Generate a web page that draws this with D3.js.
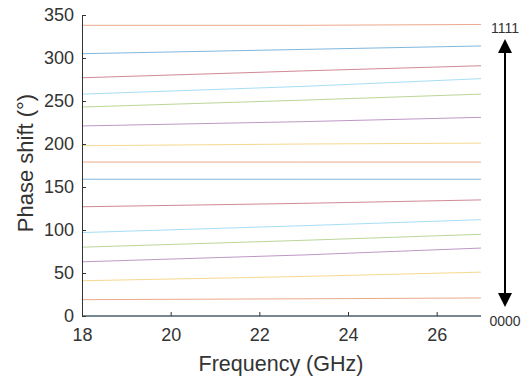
<!DOCTYPE html>
<html>
<head>
<meta charset="utf-8">
<script src="https://cdn.jsdelivr.net/npm/d3@7"></script>
<style>
  body { margin: 0; background: #fff; }
  svg { display: block; font-family: Arial, "Liberation Sans", sans-serif; }
</style>
</head>
<body>
<div id="chart"></div>
<script>
// Frequency points (GHz)
const freqs = [18, 23, 27];

// Phase shift (deg) for each of the 16 states, at the frequencies above
const states = [
  [0, 0, 0],
  [19, 20, 21],
  [41, 46, 51],
  [63, 71, 79],
  [80, 88, 95],
  [97, 105, 112],
  [127, 131, 135],
  [159, 159, 159],
  [179, 179, 179],
  [198, 200, 201],
  [221, 226, 231],
  [243, 251, 258],
  [258, 267, 276],
  [277, 285, 291],
  [305, 310, 314],
  [338, 338, 339]
];

const xTicks = [18, 20, 22, 24, 26];
const yTicks = [0, 50, 100, 150, 200, 250, 300, 350];
const stateLabels = ["1111", "0000"];

// MATLAB default colour order
const colors = ["#0072BD", "#D95319", "#EDB120", "#7E2F8E", "#77AC30", "#4DBEEE", "#A2142F"];

const width = 531;
const height = 380;
const margin = { top: 15, right: 50, bottom: 64, left: 82 };

const svg = d3.select("#chart").append("svg")
  .attr("width", width)
  .attr("height", height);

const x = d3.scaleLinear()
  .domain([18, 27])
  .range([margin.left, width - margin.right]);

const y = d3.scaleLinear()
  .domain([0, 350])
  .range([height - margin.bottom, margin.top]);

const line = d3.line()
  .x((d, i) => x(freqs[i]))
  .y((d) => y(d));

svg.append("g")
  .selectAll("path")
  .data(states)
  .join("path")
  .attr("d", line)
  .attr("fill", "none")
  .attr("stroke", (d, i) => colors[i % colors.length])
  .attr("stroke-opacity", 0.5)
  .attr("stroke-width", 1);

// axes (MATLAB style: ticks pointing inward)
const axisColor = "#333";

svg.append("g")
  .attr("transform", `translate(0,${y(0)})`)
  .call(d3.axisBottom(x).tickValues(xTicks).tickSize(-4).tickPadding(12).tickSizeOuter(0))
  .call((g) => g.select(".domain").attr("stroke", axisColor).attr("d", `M${x(18)},0H${x(27)}`))
  .call((g) => g.selectAll(".tick line").attr("stroke", axisColor))
  .call((g) => g.selectAll("text").attr("fill", axisColor).style("font-size", "18px").attr("dy", "0.71em"));

svg.append("g")
  .attr("transform", `translate(${margin.left},0)`)
  .call(d3.axisLeft(y).tickValues(yTicks).tickSize(-4).tickPadding(8).tickSizeOuter(0))
  .call((g) => g.select(".domain").attr("stroke", axisColor))
  .call((g) => g.selectAll(".tick line").attr("stroke", axisColor))
  .call((g) => g.selectAll("text").attr("fill", axisColor).style("font-size", "18px"));

svg.append("text")
  .attr("x", 281)
  .attr("y", 371)
  .attr("text-anchor", "middle")
  .attr("fill", axisColor)
  .style("font-size", "21.5px")
  .text("Frequency (GHz)");

svg.append("text")
  .attr("transform", `translate(33,163) rotate(-90)`)
  .attr("text-anchor", "middle")
  .attr("fill", axisColor)
  .style("font-size", "22px")
  .text("Phase shift (°)");

// state arrow on the right
const ax = 505;
const defs = svg.append("defs");
defs.append("marker")
  .attr("id", "head")
  .attr("viewBox", "0 0 10 10")
  .attr("refX", 5)
  .attr("refY", 5)
  .attr("markerWidth", 7)
  .attr("markerHeight", 7)
  .attr("markerUnits", "strokeWidth")
  .attr("orient", "auto-start-reverse")
  .append("path")
  .attr("d", "M0,0L10,5L0,10Z")
  .attr("fill", "#000");

svg.append("line")
  .attr("x1", ax).attr("x2", ax)
  .attr("y1", 46).attr("y2", 300)
  .attr("stroke", "#000")
  .attr("stroke-width", 2)
  .attr("marker-start", "url(#head)")
  .attr("marker-end", "url(#head)");

svg.selectAll(".state-label")
  .data(stateLabels)
  .join("text")
  .attr("class", "state-label")
  .attr("x", ax)
  .attr("y", (d, i) => (i === 0 ? 33 : 326))
  .attr("text-anchor", "middle")
  .attr("fill", axisColor)
  .style("font-size", "14px")
  .text((d) => d);
</script>
</body>
</html>
